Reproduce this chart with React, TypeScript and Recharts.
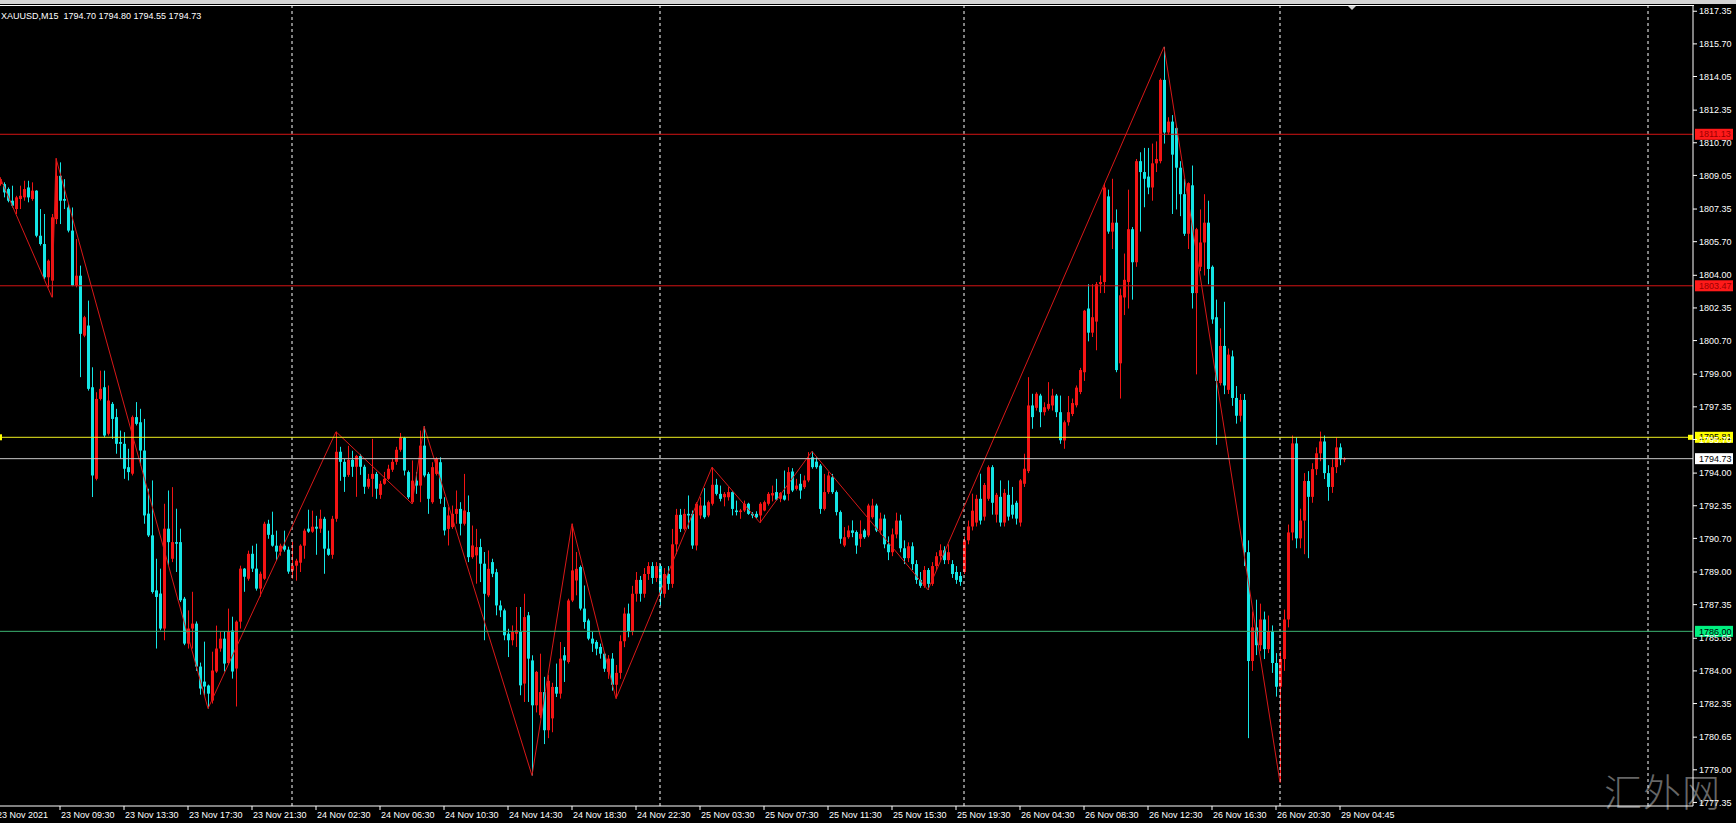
import React from 'react';
import { ComposedChart, Bar, Line, XAxis, YAxis, ReferenceLine, ReferenceDot } from 'recharts';

const FONT = '"Liberation Sans", Arial, sans-serif';
const UP = '#f41414';
const DOWN = '#14e6e6';

// ---- data (XAUUSD M15) ----
const opens = [
  1808.61,1808.61,1808.36,1807.77,1807.35,1807.86,1807.94,1808.44,1807.86,1808.28,
  1806.00,1805.58,1803.90,1803.73,1806.84,1809.03,1807.86,1807.43,1806.26,1803.48,
  1803.98,1800.95,1801.46,1798.34,1793.71,1797.75,1798.34,1795.99,1797.50,1796.83,
  1795.57,1795.48,1794.30,1793.97,1796.83,1796.57,1795.14,1791.95,1790.85,1788.07,
  1787.91,1786.14,1791.19,1789.67,1790.51,1790.51,1787.65,1785.38,1786.14,1786.39,
  1784.22,1783.46,1783.26,1782.50,1783.97,1785.13,1785.63,1784.40,1786.04,1784.12,
  1786.49,1789.17,1788.66,1789.92,1789.17,1788.16,1788.66,1791.44,1790.88,1790.33,
  1790.03,1790.33,1790.13,1789.07,1789.32,1789.47,1790.33,1791.19,1791.04,1791.29,
  1791.19,1791.69,1790.18,1789.87,1791.69,1795.08,1794.57,1793.91,1794.67,1794.32,
  1794.87,1794.32,1793.31,1793.71,1793.96,1792.90,1793.46,1793.71,1794.17,1794.57,
  1795.18,1795.78,1794.05,1792.53,1793.62,1793.37,1795.39,1793.96,1792.53,1793.96,
  1794.55,1792.28,1791.18,1791.27,1791.94,1792.19,1791.44,1792.03,1789.75,1789.84,
  1790.26,1789.42,1787.82,1789.50,1788.99,1787.31,1787.06,1785.88,1785.55,1785.88,
  1785.97,1783.36,1786.81,1784.53,1782.26,1781.76,1782.93,1781.00,1781.60,1783.19,
  1782.85,1784.79,1784.45,1787.56,1788.57,1789.25,1787.15,1786.55,1785.63,1785.46,
  1785.21,1784.87,1783.95,1784.62,1783.30,1783.90,1785.50,1786.90,1786.00,1787.90,
  1788.60,1787.90,1788.90,1789.30,1788.70,1789.30,1787.90,1788.90,1788.40,1790.40,
  1791.89,1791.18,1791.94,1791.94,1790.34,1791.86,1792.36,1791.86,1792.45,1793.41,
  1792.95,1792.78,1792.78,1793.04,1792.11,1792.03,1792.11,1792.45,1791.94,1791.94,
  1791.86,1792.11,1792.45,1792.87,1793.04,1792.70,1792.87,1792.95,1794.08,1793.20,
  1793.46,1793.29,1793.63,1794.80,1794.58,1794.38,1792.19,1793.04,1793.79,1793.04,
  1792.03,1790.34,1790.76,1791.10,1791.02,1790.68,1791.10,1790.85,1791.77,1792.36,
  1791.10,1791.70,1790.40,1790.00,1790.90,1791.60,1790.20,1789.70,1790.30,1789.40,
  1788.60,1788.30,1789.10,1788.40,1789.30,1789.80,1790.10,1789.60,1789.40,1789.00,
  1788.80,1789.00,1790.60,1791.30,1791.50,1792.70,1791.80,1792.70,1794.30,1791.90,
  1792.80,1791.50,1792.90,1792.40,1792.50,1791.50,1793.46,1794.10,1797.42,1797.30,
  1797.92,1797.08,1797.25,1797.42,1797.92,1797.08,1795.65,1796.57,1796.99,1797.43,
  1798.10,1799.10,1802.32,1801.10,1801.66,1803.55,1803.66,1807.99,1806.21,1806.66,
  1799.55,1802.88,1803.66,1806.33,1804.66,1809.77,1809.22,1808.99,1808.44,1809.66,
  1809.77,1813.88,1811.22,1811.77,1811.44,1809.44,1808.10,1806.10,1808.55,1803.10,
  1804.43,1805.66,1806.66,1804.43,1801.88,1798.55,1800.43,1798.21,1799.90,1797.80,
  1796.90,1797.70,1790.00,1784.50,1786.20,1785.30,1786.60,1785.10,1786.00,1784.40,
  1783.20,1784.60,1786.60,1791.00,1795.50,1790.70,1791.60,1793.60,1792.80,1794.20,
  1795.00,1795.60,1794.00,1793.30,1794.30,1795.30,1794.70,
];

const highs = [
  1808.95,1808.70,1808.44,1808.53,1808.02,1808.53,1808.78,1808.78,1808.70,1808.30,
  1807.35,1807.10,1804.80,1807.10,1809.91,1809.71,1808.86,1807.60,1807.43,1805.83,
  1804.49,1801.95,1802.72,1799.35,1798.09,1799.18,1799.18,1798.43,1797.59,1797.25,
  1796.15,1796.07,1795.23,1796.91,1797.59,1797.25,1796.74,1793.21,1793.63,1789.67,
  1789.17,1792.45,1793.12,1793.29,1792.20,1791.19,1787.74,1787.06,1788.00,1786.50,
  1784.42,1785.48,1783.31,1784.97,1786.29,1785.99,1785.99,1787.15,1786.74,1786.55,
  1789.32,1789.20,1790.08,1790.33,1790.43,1789.02,1791.54,1791.64,1792.05,1791.09,
  1790.43,1791.09,1790.28,1790.53,1789.67,1790.40,1791.19,1792.15,1792.10,1791.84,
  1792.15,1791.79,1791.09,1791.84,1796.09,1795.33,1794.72,1795.38,1795.13,1794.92,
  1794.97,1794.42,1793.96,1795.73,1794.06,1793.61,1794.06,1794.42,1794.72,1795.33,
  1796.03,1795.83,1794.13,1794.64,1794.05,1796.15,1796.37,1794.05,1794.55,1794.80,
  1794.80,1792.78,1792.28,1792.36,1793.12,1792.53,1793.96,1792.87,1791.35,1791.18,
  1790.68,1790.01,1790.09,1789.67,1789.16,1787.56,1787.15,1786.13,1786.30,1787.23,
  1787.23,1787.90,1786.98,1784.79,1784.00,1784.87,1783.70,1783.80,1783.40,1784.37,
  1785.46,1785.21,1787.65,1791.44,1790.01,1789.33,1788.32,1786.64,1785.97,1785.55,
  1785.38,1784.96,1784.80,1784.90,1784.30,1785.80,1787.20,1787.40,1788.30,1789.00,
  1788.80,1789.20,1789.50,1789.50,1789.50,1789.40,1789.20,1789.30,1791.18,1792.19,
  1792.19,1792.19,1792.87,1792.11,1792.53,1792.78,1793.24,1792.61,1794.30,1793.71,
  1793.37,1793.04,1793.29,1793.08,1792.61,1792.19,1792.61,1792.50,1792.03,1792.07,
  1792.53,1792.61,1793.04,1793.37,1793.71,1793.04,1794.13,1794.30,1794.25,1793.71,
  1793.96,1793.88,1795.06,1795.10,1794.80,1794.46,1793.96,1794.05,1793.96,1793.12,
  1792.11,1791.27,1791.35,1791.61,1791.10,1791.61,1791.18,1792.45,1792.70,1792.45,
  1792.00,1791.90,1790.80,1791.20,1792.00,1791.90,1790.60,1790.50,1790.50,1789.60,
  1789.00,1789.30,1789.20,1789.50,1790.00,1790.40,1790.30,1790.40,1789.60,1789.30,
  1789.00,1790.80,1791.60,1792.96,1792.90,1793.97,1793.50,1794.39,1794.40,1793.00,
  1793.63,1793.20,1793.63,1793.30,1792.60,1793.70,1794.98,1798.85,1798.01,1798.09,
  1798.01,1797.58,1798.60,1798.26,1798.00,1797.92,1796.66,1797.90,1797.77,1798.43,
  1799.32,1802.25,1803.55,1803.55,1803.66,1803.99,1808.66,1808.33,1808.88,1807.33,
  1803.33,1805.10,1808.33,1806.44,1809.88,1810.22,1810.44,1810.44,1810.66,1810.77,
  1813.95,1815.55,1811.99,1812.10,1811.55,1809.77,1808.88,1808.70,1809.55,1806.40,
  1807.33,1808.10,1807.77,1804.50,1802.77,1801.32,1802.66,1800.30,1800.20,1798.40,
  1798.00,1798.00,1790.60,1787.00,1787.60,1787.40,1787.00,1786.80,1786.30,1784.90,
  1785.00,1787.10,1791.40,1795.90,1795.80,1792.20,1794.00,1794.10,1794.50,1795.30,
  1796.10,1795.90,1794.40,1794.70,1795.80,1795.50,1794.80,
];

const lows = [
  1808.53,1807.94,1807.69,1807.43,1807.10,1807.35,1807.77,1807.69,1807.77,1805.92,
  1805.50,1803.81,1803.39,1802.89,1806.59,1806.59,1807.35,1806.17,1803.45,1803.39,
  1798.85,1800.87,1798.17,1792.79,1793.63,1797.67,1795.82,1795.90,1795.73,1794.98,
  1794.72,1793.71,1793.63,1793.88,1796.41,1794.39,1791.44,1790.77,1787.91,1785.13,
  1786.05,1785.55,1789.34,1789.50,1789.00,1787.48,1785.30,1785.13,1785.13,1784.00,
  1782.80,1782.75,1782.10,1782.35,1783.90,1784.97,1783.97,1784.30,1783.61,1782.20,
  1786.14,1788.00,1788.56,1789.00,1788.06,1787.75,1788.60,1790.68,1790.28,1789.57,
  1789.82,1790.03,1788.91,1788.66,1788.56,1789.00,1789.67,1790.98,1790.98,1789.87,
  1790.98,1788.91,1789.82,1789.67,1791.54,1793.61,1793.05,1793.81,1793.81,1792.80,
  1793.91,1792.95,1793.21,1792.80,1792.70,1792.70,1793.41,1793.66,1794.06,1794.42,
  1795.08,1793.88,1792.70,1792.45,1792.95,1792.53,1793.79,1791.94,1792.45,1793.88,
  1792.45,1790.85,1790.34,1791.18,1791.44,1790.85,1791.35,1789.50,1789.67,1788.41,
  1788.49,1785.55,1787.73,1788.74,1786.81,1786.72,1785.55,1784.70,1785.29,1785.21,
  1782.77,1782.43,1782.43,1778.71,1781.90,1781.60,1780.30,1780.60,1780.90,1782.68,
  1782.60,1783.44,1784.37,1787.48,1787.82,1787.06,1786.13,1785.55,1784.96,1784.79,
  1784.62,1783.95,1783.60,1783.00,1782.60,1783.60,1785.20,1785.70,1785.80,1787.50,
  1787.50,1787.70,1788.60,1788.40,1788.50,1787.30,1787.70,1788.10,1788.20,1789.90,
  1791.02,1791.10,1791.18,1790.17,1790.09,1791.69,1791.69,1791.77,1792.36,1792.87,
  1792.57,1792.32,1792.61,1791.86,1791.86,1791.69,1792.03,1791.89,1791.72,1791.72,
  1791.49,1792.07,1792.36,1792.57,1792.61,1792.53,1792.61,1792.61,1793.04,1793.12,
  1792.70,1793.20,1793.54,1794.22,1794.22,1791.94,1792.11,1792.95,1792.95,1791.86,
  1790.43,1790.26,1790.68,1790.76,1789.92,1790.26,1790.68,1790.76,1791.69,1791.02,
  1790.90,1790.20,1789.60,1789.80,1790.70,1790.00,1789.40,1789.50,1789.10,1788.40,
  1788.20,1788.20,1788.10,1788.30,1789.10,1789.60,1789.40,1789.40,1788.70,1788.40,
  1788.30,1788.90,1790.40,1791.10,1791.30,1791.40,1791.60,1792.60,1791.90,1791.50,
  1791.30,1791.30,1791.60,1791.70,1791.40,1791.30,1793.30,1794.00,1796.24,1797.16,
  1796.32,1796.91,1797.16,1797.16,1796.83,1795.48,1795.23,1796.40,1796.88,1797.32,
  1797.99,1798.66,1800.66,1800.88,1800.21,1803.10,1803.10,1806.10,1805.33,1799.10,
  1797.77,1801.99,1802.32,1802.77,1804.43,1806.21,1807.44,1808.10,1807.77,1809.22,
  1809.66,1810.66,1811.10,1807.10,1807.33,1806.99,1805.99,1805.33,1802.32,1798.99,
  1804.21,1803.99,1803.55,1801.55,1795.43,1798.43,1797.99,1798.00,1797.40,1796.50,
  1796.60,1789.30,1780.60,1784.00,1784.80,1785.00,1784.60,1784.90,1783.90,1782.70,
  1778.36,1784.00,1786.20,1790.60,1790.20,1790.20,1789.90,1789.70,1792.50,1793.90,
  1794.60,1793.70,1792.60,1793.00,1794.00,1794.40,1794.55,
];

const closes = [
  1808.86,1808.19,1807.77,1807.52,1807.94,1808.02,1808.36,1807.94,1808.28,1806.00,
  1805.58,1803.90,1804.74,1806.93,1809.03,1807.77,1807.77,1806.26,1803.48,1803.98,
  1801.04,1801.88,1798.26,1793.88,1797.75,1798.26,1795.90,1797.67,1796.74,1795.48,
  1795.48,1794.22,1794.05,1796.83,1796.49,1795.14,1791.86,1790.85,1787.99,1787.74,
  1786.14,1791.19,1790.51,1790.51,1790.43,1787.57,1785.38,1786.14,1786.39,1784.22,
  1783.11,1783.21,1782.85,1784.02,1785.13,1785.63,1784.37,1785.99,1783.97,1786.49,
  1789.17,1788.76,1789.92,1789.17,1788.16,1788.91,1791.44,1790.88,1790.33,1790.03,
  1790.33,1790.13,1789.02,1789.32,1789.57,1790.33,1791.09,1791.04,1791.29,1791.19,
  1791.69,1790.18,1789.87,1791.69,1795.08,1794.57,1793.81,1794.67,1794.32,1794.87,
  1794.32,1793.31,1793.71,1793.96,1793.21,1793.46,1793.71,1794.22,1794.57,1795.18,
  1795.78,1794.13,1792.78,1793.62,1793.37,1795.39,1793.88,1792.70,1794.30,1794.72,
  1792.70,1791.10,1791.86,1791.94,1792.19,1791.44,1792.11,1789.75,1790.34,1790.26,
  1789.42,1787.90,1789.16,1788.91,1787.31,1787.06,1785.80,1785.55,1785.97,1786.05,
  1783.27,1786.72,1784.62,1782.26,1783.95,1782.93,1781.00,1783.50,1783.19,1782.85,
  1784.62,1784.53,1787.56,1789.08,1789.16,1787.15,1786.47,1785.63,1785.38,1785.12,
  1784.87,1784.11,1784.62,1783.30,1783.90,1785.50,1786.90,1786.00,1787.90,1788.60,
  1787.90,1788.90,1789.30,1788.70,1789.30,1787.90,1788.90,1788.40,1790.40,1791.89,
  1791.18,1791.94,1791.86,1790.34,1792.45,1792.36,1791.77,1792.53,1793.41,1792.95,
  1792.70,1792.95,1793.04,1792.19,1792.03,1792.11,1792.45,1791.94,1791.86,1791.77,
  1792.45,1792.53,1792.95,1792.99,1792.66,1793.00,1792.66,1794.05,1793.12,1793.37,
  1793.12,1793.63,1794.72,1794.30,1794.30,1792.19,1793.04,1793.88,1793.04,1792.03,
  1790.68,1790.76,1791.10,1790.98,1790.34,1790.93,1790.76,1792.36,1792.36,1791.10,
  1791.70,1790.40,1790.00,1790.90,1791.60,1790.20,1789.70,1790.30,1789.40,1788.60,
  1788.30,1789.10,1788.40,1789.30,1789.80,1790.10,1789.60,1790.00,1788.90,1788.60,
  1788.50,1790.60,1791.30,1792.10,1792.70,1791.60,1793.40,1794.30,1792.50,1792.90,
  1791.50,1793.00,1791.80,1791.90,1791.70,1793.63,1794.22,1797.42,1796.83,1798.01,
  1797.08,1797.33,1797.50,1797.92,1797.08,1795.66,1796.57,1797.08,1797.54,1798.32,
  1799.21,1802.21,1801.10,1801.88,1803.55,1803.66,1808.44,1806.21,1806.66,1799.21,
  1802.99,1803.77,1806.33,1804.66,1809.77,1809.22,1808.88,1808.44,1809.66,1809.88,
  1813.88,1811.22,1811.77,1810.10,1809.44,1808.10,1806.10,1808.66,1803.10,1806.33,
  1805.66,1806.66,1804.32,1801.77,1798.66,1800.43,1798.43,1799.99,1797.80,1796.90,
  1797.70,1790.00,1784.50,1786.20,1785.30,1786.60,1785.10,1786.00,1784.40,1783.20,
  1784.60,1786.60,1791.00,1795.50,1790.70,1791.60,1793.60,1792.80,1794.20,1795.00,
  1795.60,1794.00,1793.30,1794.30,1795.30,1794.70,1794.73,
];

// ZigZag pivots (bar index, price)
const zigzagIdx = [0, 13, 14, 52, 84, 103, 106, 133, 143, 154, 178, 190, 203, 232, 291, 320];
const zigzagVal = [1808.95, 1802.89, 1809.91, 1782.10, 1796.09, 1792.45, 1796.37, 1778.71, 1791.44, 1782.60, 1794.30, 1791.49, 1795.10, 1788.10, 1815.55, 1778.36];

const timeLabels = [
  '23 Nov 2021', '23 Nov 09:30', '23 Nov 13:30', '23 Nov 17:30', '23 Nov 21:30',
  '24 Nov 02:30', '24 Nov 06:30', '24 Nov 10:30', '24 Nov 14:30', '24 Nov 18:30',
  '24 Nov 22:30', '25 Nov 03:30', '25 Nov 07:30', '25 Nov 11:30', '25 Nov 15:30',
  '25 Nov 19:30', '26 Nov 04:30', '26 Nov 08:30', '26 Nov 12:30', '26 Nov 16:30',
  '26 Nov 20:30', '29 Nov 04:45',
];

const priceTickLabels = [
  '1817.35', '1815.70', '1814.05', '1812.35', '1810.70', '1809.05', '1807.35', '1805.70',
  '1804.00', '1802.35', '1800.70', '1799.00', '1797.35', '1795.70', '1794.00', '1792.35',
  '1790.70', '1789.00', '1787.35', '1785.65', '1784.00', '1782.35', '1780.65', '1779.00', '1777.35',
];

const daySeparatorIdx = [73, 165, 241, 320, 412];

const levelResistHigh = 1811.13;
const levelResistLow = 1803.47;
const levelAlert = 1795.81;
const levelBid = 1794.73;
const levelSupport = 1786.00;

const symbolName = 'XAUUSD,M15';
const lastBarOHLC = ['1794.70', '1794.80', '1794.55', '1794.73'];
const chartShiftIdx = 338;

// ---- chart geometry ----
const W = 1736;
const H = 823;
const X_DOMAIN = [0, 423.25];
const Y_MIN = 1777.17;
const Y_MAX = 1817.615;

const timeTicks = timeLabels.map((_, k) => -1 + 16 * k);
const priceTicks = priceTickLabels.map((s) => parseFloat(s));

const data = opens.map((o, i) => ({ i, o, h: highs[i], l: lows[i], c: closes[i], zz: undefined as number | undefined }));
zigzagIdx.forEach((idx, k) => {
  data[idx].zz = zigzagVal[k];
});

const renderCandle = (props: any) => {
  const { x, y, width, height, payload } = props;
  if (!payload || x == null || y == null || height == null) return <g />;
  const { o, h, l, c } = payload;
  const topPx = Math.min(y, y + height);
  const total = Math.abs(height);
  const px = Math.round(x + width / 2);
  const k = h > l ? total / (h - l) : 0;
  const yOf = (v: number) => topPx + (h - v) * k;
  const color = c >= o ? UP : DOWN;
  const bTop = yOf(Math.max(o, c));
  const bBot = yOf(Math.min(o, c));
  return (
    <g>
      <line x1={px + 0.5} x2={px + 0.5} y1={topPx} y2={topPx + total} stroke={color} strokeWidth={1} />
      <rect x={px - 1} y={bTop} width={3} height={Math.max(1, bBot - bTop)} fill={color} />
    </g>
  );
};

const XTick = (props: any) => {
  const { x, y, payload } = props;
  const k = timeTicks.indexOf(payload.value);
  return (
    <text x={x + 1} y={y} dy="0.71em" fill="#ffffff" fontSize={9} fontFamily={FONT} textAnchor="start">
      {k >= 0 ? timeLabels[k] : ''}
    </text>
  );
};

const YTick = (props: any) => {
  const { x, y, payload } = props;
  const k = priceTicks.indexOf(payload.value);
  return (
    <text x={x} y={y} dy="0.355em" fill="#ffffff" fontSize={9} fontFamily={FONT} textAnchor="start">
      {k >= 0 ? priceTickLabels[k] : ''}
    </text>
  );
};

const PriceTag = (props: any) => {
  const { viewBox, bg, fg, text, handle } = props;
  if (!viewBox) return null;
  const left = viewBox.x;
  const right = viewBox.x + viewBox.width;
  const y = viewBox.y;
  return (
    <g>
      {handle ? <rect x={right - 5} y={y - 2.5} width={5} height={5} fill={bg} /> : null}
      {handle ? <rect x={left} y={y - 3} width={2} height={6} fill={bg} /> : null}
      <rect x={right + 2} y={y - 5.5} width={38} height={11} fill={bg} />
      <text x={right + 6} y={y} dy="0.355em" fill={fg} fontSize={9} fontFamily={FONT} textAnchor="start">
        {text}
      </text>
    </g>
  );
};

const shiftMarker = (p: any) => (
  <polygon points={`${p.cx - 4},${p.cy} ${p.cx + 4},${p.cy} ${p.cx},${p.cy + 4}`} fill="#d0d0d0" />
);

export default function App() {
  return (
    <div style={{ position: 'relative', width: W, height: H, background: '#000', overflow: 'hidden' }}>
      <style>{'html,body{margin:0;padding:0;background:#000;overflow:hidden}'}</style>
      <div style={{ position: 'absolute', left: 0, top: 0, width: W, height: 4, background: '#d4d4d4' }} />
      <div style={{ position: 'absolute', left: 0, top: 5, width: 1694, height: 1, background: '#ffffff' }} />
      <div
        style={{
          position: 'absolute',
          left: 1604,
          top: 768,
          fontSize: 38,
          fontFamily: '"Noto Sans CJK SC", sans-serif',
          fontWeight: 300,
          color: '#666666',
          letterSpacing: 1,
          lineHeight: '44px',
        }}
      >
        汇外网
      </div>
      <div style={{ position: 'absolute', left: 0, top: 0 }}>
        <ComposedChart width={W} height={H} data={data} margin={{ top: 6, right: 0, bottom: 0, left: 0 }}>
          <YAxis
            orientation="right"
            width={43}
            type="number"
            domain={[Y_MIN, Y_MAX]}
            allowDataOverflow
            ticks={priceTicks}
            interval={0}
            tick={<YTick />}
            tickSize={4}
            tickMargin={2}
            axisLine={{ stroke: '#ffffff' }}
            tickLine={{ stroke: '#ffffff' }}
          />
          <XAxis
            type="number"
            dataKey="i"
            domain={X_DOMAIN}
            allowDataOverflow
            ticks={timeTicks}
            interval={0}
            height={17}
            tick={<XTick />}
            tickSize={4}
            tickMargin={2}
            axisLine={{ stroke: '#ffffff' }}
            tickLine={{ stroke: '#ffffff' }}
          />
          {daySeparatorIdx.map((d) => (
            <ReferenceLine key={'sep' + d} x={d} stroke="#ffffff" strokeDasharray="3 3" strokeWidth={1} />
          ))}
          <Bar dataKey={(d: any) => [d.l, d.h]} barSize={3} shape={renderCandle} isAnimationActive={false} />
          <Line
            dataKey="zz"
            type="linear"
            stroke="#d81818"
            strokeWidth={1}
            dot={false}
            activeDot={false}
            connectNulls
            isAnimationActive={false}
          />
          <ReferenceLine
            y={levelResistHigh}
            stroke="#d41414"
            label={<PriceTag bg="#ff1a1a" fg="#9a0000" text={levelResistHigh.toFixed(2)} />}
          />
          <ReferenceLine
            y={levelResistLow}
            stroke="#d41414"
            label={<PriceTag bg="#ff1a1a" fg="#9a0000" text={levelResistLow.toFixed(2)} />}
          />
          <ReferenceLine
            y={levelSupport}
            stroke="#3cb371"
            label={<PriceTag bg="#00f080" fg="#000000" text={levelSupport.toFixed(2)} />}
          />
          <ReferenceLine
            y={levelBid}
            stroke="#c8c8c8"
            label={<PriceTag bg="#ffffff" fg="#000000" text={levelBid.toFixed(2)} />}
          />
          <ReferenceLine
            y={levelAlert}
            stroke="#f0f020"
            label={<PriceTag bg="#ffff00" fg="#000000" text={levelAlert.toFixed(2)} handle />}
          />
          <ReferenceDot x={chartShiftIdx} y={Y_MAX} r={4} ifOverflow="visible" shape={shiftMarker} />
        </ComposedChart>
      </div>
      <div
        style={{
          position: 'absolute',
          left: 1,
          top: 10,
          color: '#ffffff',
          fontSize: 9,
          lineHeight: '12px',
          fontFamily: FONT,
          whiteSpace: 'pre',
        }}
      >
        {symbolName + '  ' + lastBarOHLC.join(' ')}
      </div>
    </div>
  );
}
